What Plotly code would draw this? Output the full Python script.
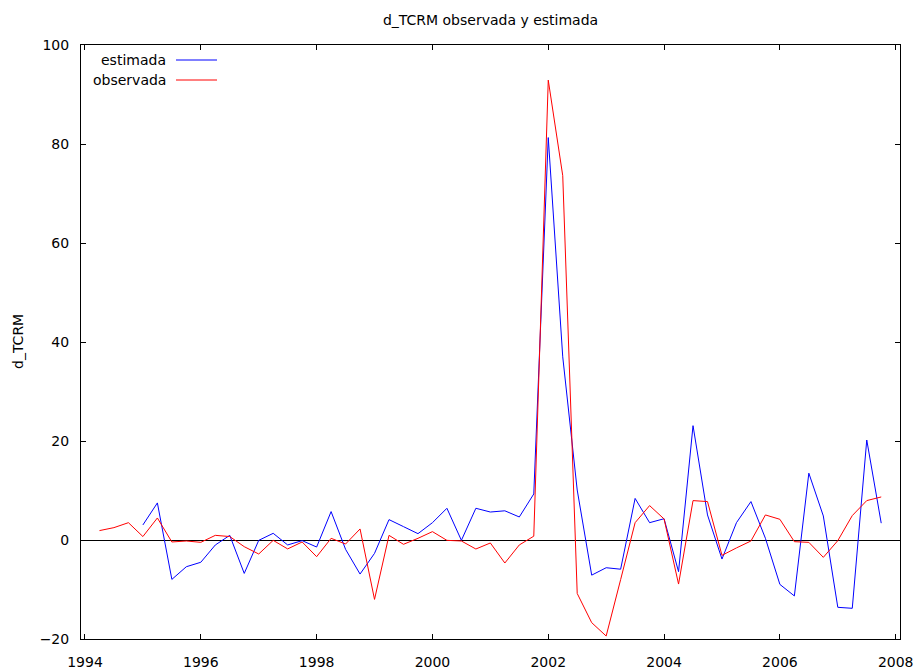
import plotly.graph_objects as go

# Quarterly series: observed starts 1994Q2, estimated starts 1995Q1
obs_start = (1994, 2)
est_start = (1995, 1)

observada = [
    1.9, 2.5, 3.5,
    0.7, 4.45, -0.4, -0.2,
    -0.47, 0.94, 0.7, -1.35,
    -2.83, -0.07, -1.8, -0.4,
    -3.37, 0.34, -0.81, 2.23,
    -12.0, 0.94, -0.87, 0.34,
    1.69, -0.07, -0.2, -1.82,
    -0.6, -4.65, -1.0, 0.77,
    92.9, 73.6, -10.8, -16.7,
    -19.4, -8.0, 3.5, 6.95,
    4.25, -8.9, 7.96, 7.76,
    -3.1, -1.6, -0.2, 5.06,
    4.18, -0.34, -0.47, -3.5,
    -0.13, 4.93, 7.96, 8.7,
]

estimada = [
    3.04, 7.49, -7.96, -5.4,
    -4.5, -1.01, 0.94, -6.75,
    -0.07, 1.35, -1.0, -0.13,
    -1.42, 5.74, -1.89, -6.88,
    -2.7, 4.12, 2.7, 1.28,
    3.5, 6.41, -0.07, 6.41,
    5.65, 5.9, 4.65, 9.3,
    81.3, 37.0, 10.1, -7.1,
    -5.6, -5.9, 8.4, 3.5,
    4.3, -6.4, 23.1, 5.06,
    -3.85, 3.5, 7.76, 0.34,
    -8.97, -11.3, 13.5, 4.86,
    -13.6, -13.8, 20.2, 3.4,
]

x_ticks = [1994, 1996, 1998, 2000, 2002, 2004, 2006, 2008]
y_ticks = [-20, 0, 20, 40, 60, 80, 100]


def quarter_axis(start, n):
    year, q = start
    base = year + (q - 1) / 4.0
    return [base + i / 4.0 for i in range(n)]


x_obs = quarter_axis(obs_start, len(observada))
x_est = quarter_axis(est_start, len(estimada))

FONT = "DejaVu Sans"
W, H = 917, 669
M_L, M_R, M_T, M_B = 81, 17, 45, 30
PW = W - M_L - M_R
PH = H - M_T - M_B

fig = go.Figure()
fig.add_trace(go.Scatter(x=x_est, y=estimada, mode="lines", name="estimada",
                         line=dict(color="#0000ff", width=1)))
fig.add_trace(go.Scatter(x=x_obs, y=observada, mode="lines", name="observada",
                         line=dict(color="#ff0000", width=1)))

axis_common = dict(
    showgrid=False, showline=True, linecolor="black", linewidth=1,
    mirror="ticks", ticks="inside", ticklen=5, tickcolor="black", tickwidth=1,
    tickfont=dict(family=FONT, size=14, color="black"),
)

fig.update_layout(
    width=W, height=H,
    margin=dict(l=M_L, r=M_R, t=M_T, b=M_B, autoexpand=False),
    paper_bgcolor="white", plot_bgcolor="white",
    showlegend=False,
    title=dict(text="d_TCRM observada y estimada", x=(M_L + PW / 2) / W,
               xanchor="center", y=1 - 20 / H, yanchor="middle",
               font=dict(family=FONT, size=14, color="black")),
    xaxis=dict(range=[1994 - 4 / 58, 2008 + 4.3 / 58], tickvals=x_ticks,
               ticklabelstandoff=10, zeroline=False, **axis_common),
    yaxis=dict(range=[-20, 100], tickvals=y_ticks, ticklabelstandoff=8,
               zeroline=True, zerolinecolor="black", zerolinewidth=1,
               **axis_common),
)

# y-axis label
fig.add_annotation(text="d_TCRM", xref="paper", yref="paper",
                   x=(18 - M_L) / PW, y=0.5, xanchor="center", yanchor="middle",
                   textangle=-90, showarrow=False,
                   font=dict(family=FONT, size=14, color="black"))

# key: label on the left, line sample on the right
key_rows = [("estimada", "#0000ff", 60), ("observada", "#ff0000", 80)]
for label, color, ypx in key_rows:
    yp = 1 - (ypx - M_T) / PH
    fig.add_annotation(text=label, xref="paper", yref="paper",
                       x=(168 - M_L) / PW, y=yp, xanchor="right", yanchor="middle",
                       showarrow=False,
                       font=dict(family=FONT, size=14, color="black"))
    fig.add_shape(type="line", xref="paper", yref="paper",
                  x0=(176 - M_L) / PW, x1=(217 - M_L) / PW, y0=yp, y1=yp,
                  line=dict(color=color, width=1))

fig.write_html("out.html")
